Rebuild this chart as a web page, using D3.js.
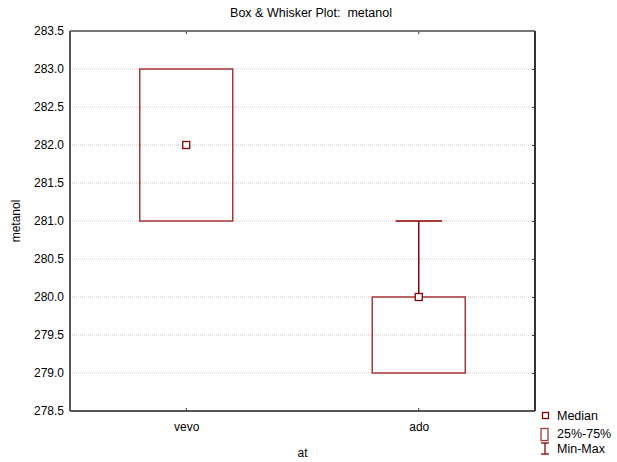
<!DOCTYPE html>
<html>
<head>
<meta charset="utf-8">
<script src="https://cdn.jsdelivr.net/npm/d3@7"></script>
<style>
  body { margin: 0; background: #fff; }
  text { font-family: "Liberation Sans", Arial, sans-serif; fill: #000; white-space: pre; }
</style>
</head>
<body>
<div id="chart-area"></div>
<script>
// data
var categories = ["vevo", "ado"];
var medians = [282.0, 280.0];
var q1 = [281.0, 279.0];
var q3 = [283.0, 280.0];
var mins = [281.0, 279.0];
var maxs = [283.0, 281.0];
var yTicks = [278.5, 279.0, 279.5, 280.0, 280.5, 281.0, 281.5, 282.0, 282.5, 283.0, 283.5];

var width = 617;
var height = 462;
var margin = { left: 70, top: 31, right: 82, bottom: 51 };
var w = width - margin.left - margin.right;
var h = height - margin.top - margin.bottom;
var dark = "#8b0000";
var boxCol = "#a83838";

var svg = d3.select("#chart-area")
    .append("svg")
    .attr("width", width)
    .attr("height", height);

var g = svg.append("g")
    .attr("transform", "translate(" + margin.left + "," + margin.top + ")");

var x = d3.scalePoint()
    .domain(categories)
    .range([0, w])
    .padding(0.5);

var y = d3.scaleLinear()
    .domain([278.5, 283.5])
    .range([h, 0]);

var boxW = w * 0.2;

// grid
g.selectAll(".grid")
    .data(yTicks.slice(1, -1))
    .enter().append("line")
    .attr("x1", 0).attr("x2", w)
    .attr("y1", function(d) { return y(d); })
    .attr("y2", function(d) { return y(d); })
    .attr("stroke", "#c8c8c8")
    .attr("stroke-dasharray", "1,1");

// y axis (left)
var yAxis = g.append("g")
    .call(d3.axisLeft(y).tickValues(yTicks).tickFormat(d3.format(".1f")).tickSize(0).tickPadding(6));
yAxis.select(".domain").remove();
yAxis.selectAll("text").attr("font-size", "12px").attr("font-family", "Liberation Sans, Arial, sans-serif");

// right inner ticks
g.append("g")
    .attr("transform", "translate(" + w + ",0)")
    .call(d3.axisLeft(y).tickValues(yTicks).tickSize(3).tickFormat(""))
    .call(function(s) { s.select(".domain").remove(); })
    .selectAll("line").attr("stroke", "#333");

// bottom axis
var xAxis = g.append("g")
    .attr("transform", "translate(0," + h + ")")
    .call(d3.axisBottom(x).tickSize(0).tickPadding(11));
xAxis.select(".domain").remove();
xAxis.selectAll("text").attr("font-size", "12px").attr("font-family", "Liberation Sans, Arial, sans-serif");

// inner category ticks top & bottom
categories.forEach(function(c) {
    g.append("line").attr("x1", x(c)).attr("x2", x(c)).attr("y1", 0).attr("y2", 3).attr("stroke", "#333");
    g.append("line").attr("x1", x(c)).attr("x2", x(c)).attr("y1", h).attr("y2", h - 3).attr("stroke", "#333");
});

// frame
g.append("line").attr("x1", 0).attr("x2", w).attr("y1", 0).attr("y2", 0).attr("stroke", "#777").attr("stroke-width", 2);
g.append("line").attr("x1", 0).attr("x2", w).attr("y1", h).attr("y2", h).attr("stroke", "#555").attr("stroke-width", 2);
g.append("line").attr("x1", 0).attr("x2", 0).attr("y1", 0).attr("y2", h).attr("stroke", "#555").attr("stroke-width", 2);
g.append("line").attr("x1", w).attr("x2", w).attr("y1", 0).attr("y2", h).attr("stroke", "#333").attr("stroke-width", 2);

var data = categories.map(function(c, i) {
    return { cat: c, med: medians[i], lo: q1[i], hi: q3[i], min: mins[i], max: maxs[i] };
});

// whiskers
data.forEach(function(d) {
    var cx = x(d.cat);
    if (d.max > d.hi) {
        g.append("line").attr("x1", cx).attr("x2", cx).attr("y1", y(d.hi)).attr("y2", y(d.max))
            .attr("stroke", dark).attr("stroke-width", 1.5);
        g.append("line").attr("x1", cx - boxW / 4).attr("x2", cx + boxW / 4).attr("y1", y(d.max)).attr("y2", y(d.max))
            .attr("stroke", dark).attr("stroke-width", 1.5);
    }
    if (d.min < d.lo) {
        g.append("line").attr("x1", cx).attr("x2", cx).attr("y1", y(d.lo)).attr("y2", y(d.min))
            .attr("stroke", dark).attr("stroke-width", 1.5);
        g.append("line").attr("x1", cx - boxW / 4).attr("x2", cx + boxW / 4).attr("y1", y(d.min)).attr("y2", y(d.min))
            .attr("stroke", dark).attr("stroke-width", 1.5);
    }
});

// boxes
g.selectAll(".box")
    .data(data)
    .enter().append("rect")
    .attr("x", function(d) { return x(d.cat) - boxW / 2; })
    .attr("y", function(d) { return y(d.hi); })
    .attr("width", boxW)
    .attr("height", function(d) { return y(d.lo) - y(d.hi); })
    .attr("fill", "none")
    .attr("stroke", boxCol)
    .attr("stroke-width", 1.5);

// medians
g.selectAll(".med")
    .data(data)
    .enter().append("rect")
    .attr("x", function(d) { return x(d.cat) - 3.5; })
    .attr("y", function(d) { return y(d.med) - 3.5; })
    .attr("width", 7)
    .attr("height", 7)
    .attr("fill", "#fff")
    .attr("stroke", dark)
    .attr("stroke-width", 1.3);

// title and labels
svg.append("text")
    .attr("x", 311).attr("y", 17)
    .attr("text-anchor", "middle")
    .attr("font-size", "12.5px")
    .text("Box & Whisker Plot:  metanol");

svg.append("text")
    .attr("x", margin.left + w / 2).attr("y", 457)
    .attr("text-anchor", "middle")
    .attr("font-size", "12px")
    .text("at");

svg.append("text")
    .attr("transform", "translate(20," + (margin.top + h / 2) + ") rotate(-90)")
    .attr("text-anchor", "middle")
    .attr("font-size", "12px")
    .text("metanol");

// legend
var lg = svg.append("g");
lg.append("rect").attr("x", 542.5).attr("y", 412.5).attr("width", 6).attr("height", 6)
    .attr("fill", "#fff").attr("stroke", dark).attr("stroke-width", 1.3);
lg.append("text").attr("x", 557).attr("y", 420).attr("font-size", "12.5px").text("Median");
lg.append("rect").attr("x", 541).attr("y", 428.5).attr("width", 7).attr("height", 12)
    .attr("fill", "none").attr("stroke", boxCol).attr("stroke-width", 1.3);
lg.append("text").attr("x", 557).attr("y", 438).attr("font-size", "12.5px").text("25%-75%");
lg.append("line").attr("x1", 545).attr("x2", 545).attr("y1", 443).attr("y2", 454).attr("stroke", dark).attr("stroke-width", 1.3);
lg.append("line").attr("x1", 541).attr("x2", 549).attr("y1", 443).attr("y2", 443).attr("stroke", dark).attr("stroke-width", 1.3);
lg.append("line").attr("x1", 541).attr("x2", 549).attr("y1", 454).attr("y2", 454).attr("stroke", dark).attr("stroke-width", 1.3);
lg.append("text").attr("x", 557).attr("y", 453).attr("font-size", "12.5px").text("Min-Max");
</script>
</body>
</html>
